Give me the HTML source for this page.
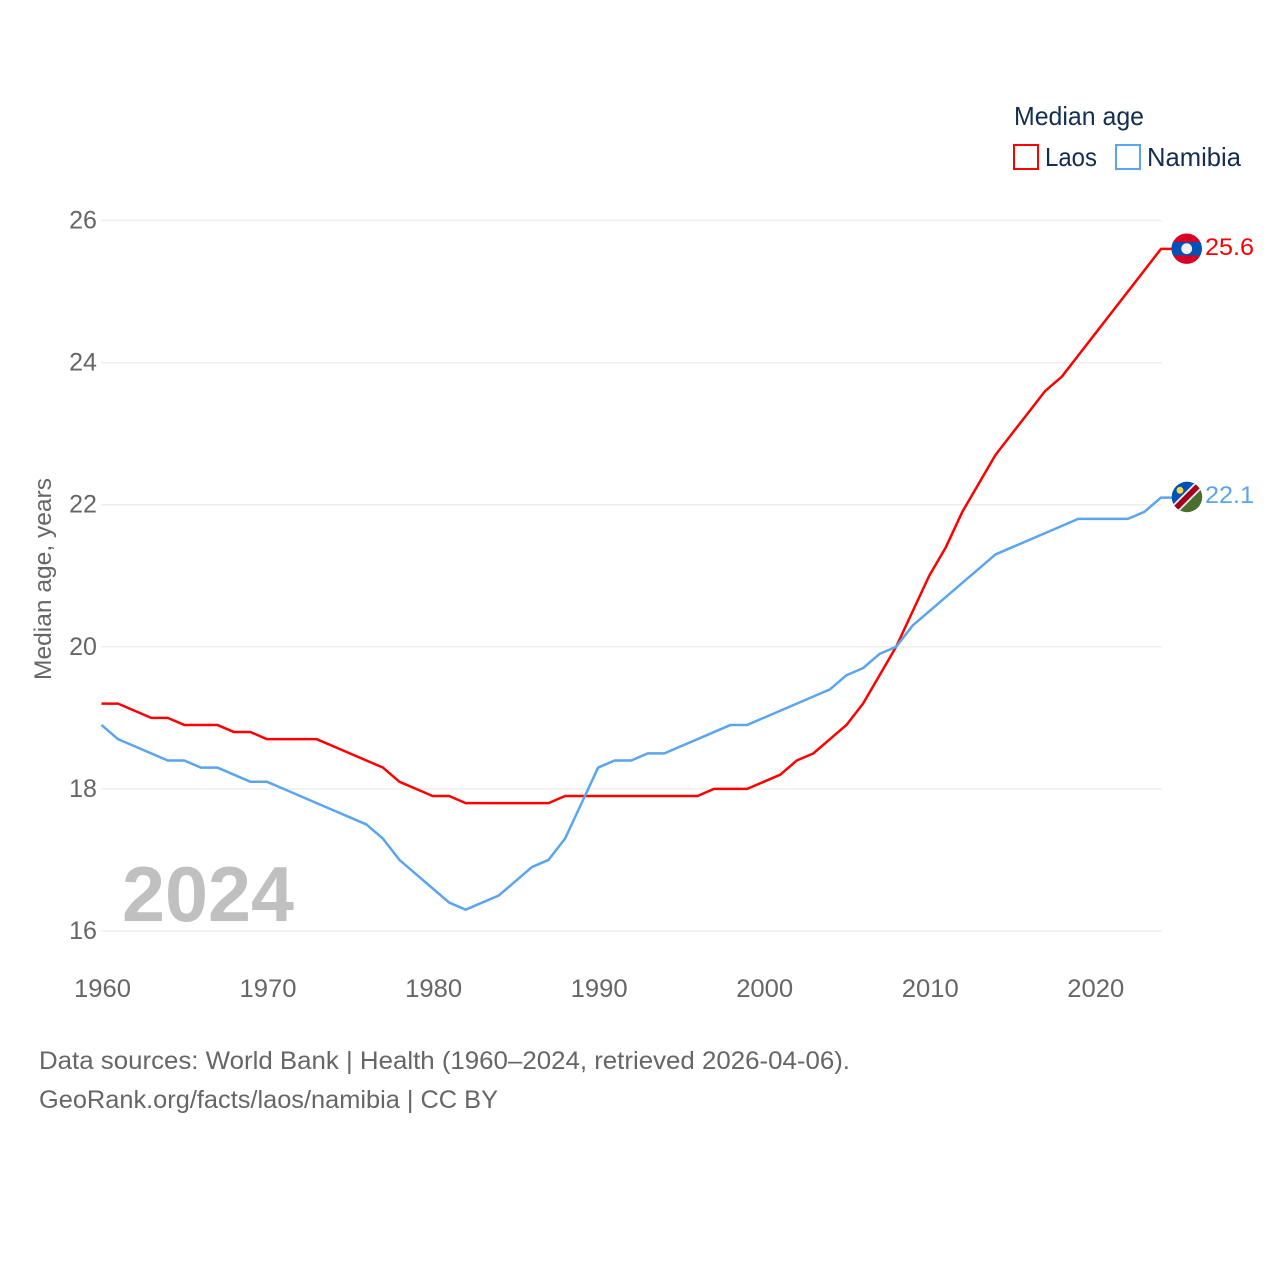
<!DOCTYPE html>
<html lang="en">
<head>
<meta charset="utf-8">
<title>Median age: Laos and Namibia</title>
<style>
html,body{margin:0;padding:0;background:#fff;}
#chart{display:block;width:1280px;height:1280px;font-family:"Liberation Sans",sans-serif;}
</style>
</head>
<body>
<svg id="chart" xmlns="http://www.w3.org/2000/svg" width="1280" height="1280" viewBox="0 0 1280 1280">
  <rect x="0" y="0" width="1280" height="1280" fill="#ffffff"/>
  <g id="grid"></g>
  <g id="yticks"></g>
  <g id="xticks"></g>
  <text x="0" y="0" transform="translate(51,579) rotate(-90)" text-anchor="middle" font-size="24" fill="#666666" textLength="202" lengthAdjust="spacingAndGlyphs">Median age, years</text>
  <text x="122" y="921" font-size="78" font-weight="700" fill="#c0c0c0" textLength="172" lengthAdjust="spacingAndGlyphs">2024</text>
  <g id="series"></g>

  <g>
    <text x="1014" y="125" font-size="26" fill="#132e50" textLength="130" lengthAdjust="spacingAndGlyphs">Median age</text>
    <g>
      <rect x="1014" y="145" width="24" height="24" fill="#ffffff" stroke="#ff0000" stroke-width="2"/>
      <text x="1045" y="166" font-size="26" fill="#132e50" textLength="52" lengthAdjust="spacingAndGlyphs">Laos</text>
    </g>
    <g>
      <rect x="1116" y="145" width="24" height="24" fill="#ffffff" stroke="#5ba4ee" stroke-width="2"/>
      <text x="1147" y="166" font-size="26" fill="#132e50" textLength="94" lengthAdjust="spacingAndGlyphs">Namibia</text>
    </g>
  </g>

  <defs>
    <clipPath id="laos-clip"><circle cx="1186.7" cy="248.7" r="15.2"/></clipPath>
    <clipPath id="namibia-clip"><circle cx="1187" cy="497" r="15.2"/></clipPath>
  </defs>

  <g clip-path="url(#laos-clip)">
    <rect x="1170" y="232" width="34" height="34" fill="#d80027"/>
    <rect x="1170" y="242" width="34" height="13.5" fill="#0052b4"/>
    <circle cx="1186.7" cy="248.7" r="5.4" fill="#f0f0f0"/>
  </g>

  <g clip-path="url(#namibia-clip)">
    <rect x="1170" y="480" width="34" height="34" fill="#496e2d"/>
    <polygon points="1170,480 1204,480 1170,514" fill="#0052b4"/>
    <line x1="1167" y1="517" x2="1207" y2="477" stroke="#f0f0f0" stroke-width="9.2"/>
    <line x1="1167" y1="517" x2="1207" y2="477" stroke="#a2001d" stroke-width="5.6"/>
    <circle cx="1180" cy="490.3" r="3.4" fill="#ffda44"/>
  </g>

  <text x="1205" y="255" font-size="24" fill="#ff0000" textLength="49" lengthAdjust="spacingAndGlyphs">25.6</text>
  <text x="1205" y="503" font-size="24" fill="#5ba4ee" textLength="49" lengthAdjust="spacingAndGlyphs">22.1</text>

  <text x="39" y="1069" font-size="25" fill="#666666" textLength="811" lengthAdjust="spacingAndGlyphs">Data sources: World Bank | Health (1960–2024, retrieved 2026-04-06).</text>
  <text x="39" y="1108" font-size="25" fill="#666666" textLength="459" lengthAdjust="spacingAndGlyphs">GeoRank.org/facts/laos/namibia | CC BY</text>
</svg>
<script>
var years = [1960,1961,1962,1963,1964,1965,1966,1967,1968,1969,1970,1971,1972,1973,1974,1975,1976,1977,1978,1979,1980,1981,1982,1983,1984,1985,1986,1987,1988,1989,1990,1991,1992,1993,1994,1995,1996,1997,1998,1999,2000,2001,2002,2003,2004,2005,2006,2007,2008,2009,2010,2011,2012,2013,2014,2015,2016,2017,2018,2019,2020,2021,2022,2023,2024];
var laosValues = [19.2,19.2,19.1,19.0,19.0,18.9,18.9,18.9,18.8,18.8,18.7,18.7,18.7,18.7,18.6,18.5,18.4,18.3,18.1,18.0,17.9,17.9,17.8,17.8,17.8,17.8,17.8,17.8,17.9,17.9,17.9,17.9,17.9,17.9,17.9,17.9,17.9,18.0,18.0,18.0,18.1,18.2,18.4,18.5,18.7,18.9,19.2,19.6,20.0,20.5,21.0,21.4,21.9,22.3,22.7,23.0,23.3,23.6,23.8,24.1,24.4,24.7,25.0,25.3,25.6];
var namibiaValues = [18.9,18.7,18.6,18.5,18.4,18.4,18.3,18.3,18.2,18.1,18.1,18.0,17.9,17.8,17.7,17.6,17.5,17.3,17.0,16.8,16.6,16.4,16.3,16.4,16.5,16.7,16.9,17.0,17.3,17.8,18.3,18.4,18.4,18.5,18.5,18.6,18.7,18.8,18.9,18.9,19.0,19.1,19.2,19.3,19.4,19.6,19.7,19.9,20.0,20.3,20.5,20.7,20.9,21.1,21.3,21.4,21.5,21.6,21.7,21.8,21.8,21.8,21.8,21.9,22.1];
var yTickValues = [16,18,20,22,24,26];
var xTickValues = [1960,1970,1980,1990,2000,2010,2020];

var NS = 'http://www.w3.org/2000/svg';
function xScale(year){ return 101.5 + (year - 1960) * (1161 - 101.5) / 64; }
function yScale(v){ return 931 - (v - 16) * (931 - 220.5) / 10; }

var grid = document.getElementById('grid');
var yticks = document.getElementById('yticks');
var xticks = document.getElementById('xticks');
var series = document.getElementById('series');

yTickValues.forEach(function(v){
  var line = document.createElementNS(NS, 'line');
  line.setAttribute('x1', 101);
  line.setAttribute('x2', 1162);
  line.setAttribute('y1', yScale(v));
  line.setAttribute('y2', yScale(v));
  line.setAttribute('stroke', '#eeeeee');
  line.setAttribute('stroke-width', '1.5');
  
  
  grid.appendChild(line);

  var t = document.createElementNS(NS, 'text');
  t.setAttribute('x', 83);
  t.setAttribute('y', yScale(v) + 8);
  t.setAttribute('text-anchor', 'middle');
  t.setAttribute('font-size', '25');
  t.setAttribute('fill', '#666666');
  
  
  t.textContent = v;
  yticks.appendChild(t);
});

xTickValues.forEach(function(y){
  var t = document.createElementNS(NS, 'text');
  t.setAttribute('x', xScale(y) + 1);
  t.setAttribute('y', 997);
  t.setAttribute('text-anchor', 'middle');
  t.setAttribute('font-size', '25');
  t.setAttribute('fill', '#666666');
  t.setAttribute('textLength', '57');
  t.setAttribute('lengthAdjust', 'spacingAndGlyphs');
  
  
  t.textContent = y;
  xticks.appendChild(t);
});

function drawLine(values, color, name){
  var pts = values.map(function(v, i){
    return xScale(years[i]).toFixed(2) + ',' + yScale(v).toFixed(2);
  });
  var last = values[values.length - 1];
  pts.push('1172,' + yScale(last).toFixed(2));
  var pl = document.createElementNS(NS, 'polyline');
  pl.setAttribute('points', pts.join(' '));
  pl.setAttribute('fill', 'none');
  pl.setAttribute('stroke', color);
  pl.setAttribute('stroke-width', '2.5');
  pl.setAttribute('stroke-linejoin', 'round');
  
  
  series.appendChild(pl);
}
drawLine(laosValues, '#ff0000', 'line-laos');
drawLine(namibiaValues, '#5ba4ee', 'line-namibia');
</script>
</body>
</html>
